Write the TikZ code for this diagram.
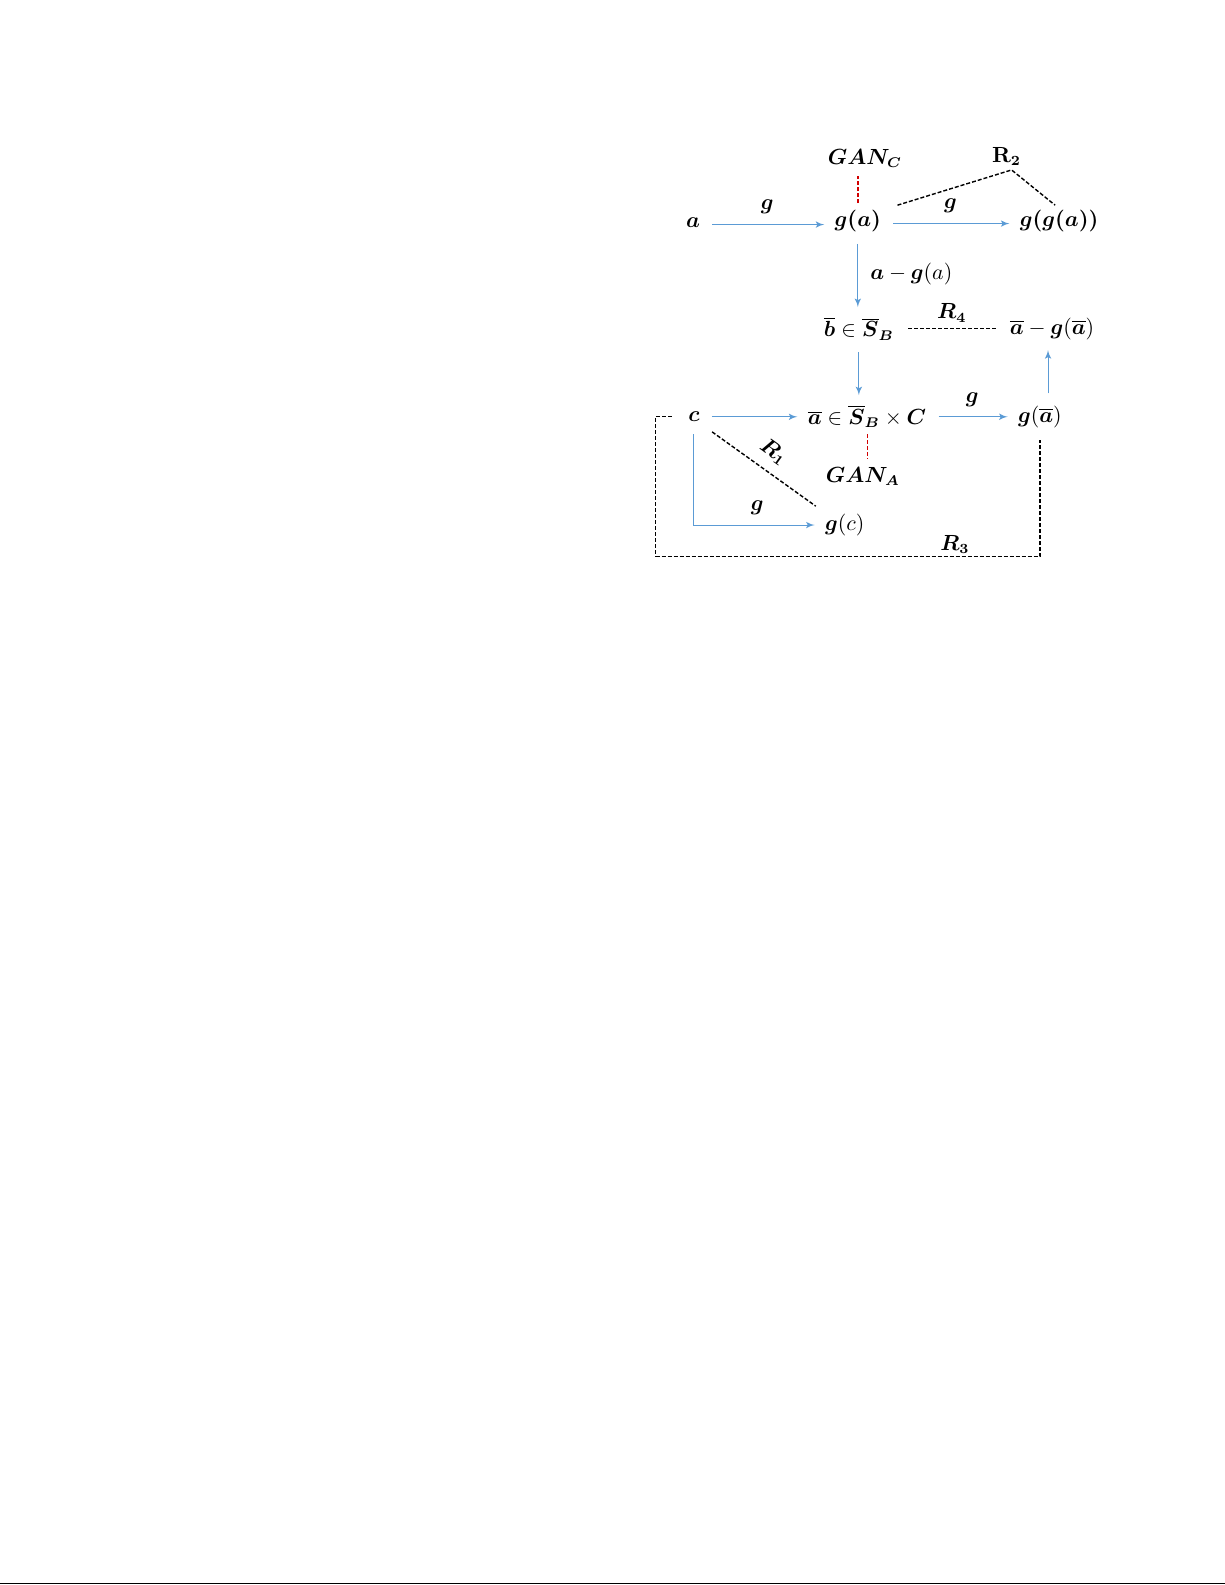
\documentclass[tikz,border=0pt]{standalone}
\usepackage{bm}
\usetikzlibrary{arrows, calc, positioning}
\definecolor{mapblue}{RGB}{91,155,213}
\definecolor{ganred}{RGB}{210,0,0}

\begin{document}
\begin{tikzpicture}[x=0.5058pt, y=-0.5058pt, >=latex', auto,
    every node/.style={font=\fontsize{10.5}{12}\selectfont, inner sep=2pt},
    map/.style={->, draw=mapblue, line width=0.5pt, shorten <=4pt, shorten >=3pt},
    rel/.style={draw=black, line width=0.7pt, dash pattern=on 2pt off 1pt},
    gan/.style={draw=ganred, dash pattern=on 2pt off 1pt, shorten <=1pt, shorten >=2pt}]

    \useasboundingbox (0pt,0pt) rectangle (612.5pt,-792.5pt);

    \node         (A)     at (685,220)  {$\bm a$};
    \node         (GA)    at (848,218)  {$\bm{g(a)}$};
    \node         (GGA)   at (1047,218) {$\bm{g(g(a))}$};
    \node         (GANC)  at (855,157)  {$\bm{GAN_C}$};
    \node         (RII)   at (995,155)  {$\mathbf{R}_{\mathbf{2}}$};
    \coordinate   (Rtop)  at (1000,168);
    \node         (B)     at (849,325)  {$\overline{\bm b}\in\overline{\bm S}_{\bm B}$};
    \node         (AG)    at (1040,325) {$\overline{\bm a}-\bm g(\overline{\bm a})$};
    \node         (C)     at (686,412)  {$\bm c$};
    \node         (ABAR)  at (857,412)  {$\overline{\bm a}\in\overline{\bm S}_{\bm B}\times\bm C$};
    \node         (GABAR) at (1028,412) {$\bm g(\overline{\bm a})$};
    \node         (GANA)  at (853,471)  {$\bm{GAN_A}$};
    \node         (GC)    at (835,519)  {$\bm g(c)$};
    \node         (RIII)  at (944,538)  {$\bm{R_3}$};
    \coordinate   (Rcorner) at (648,550);
    \coordinate   (Pleft)   at (0,1565.5);
    \coordinate   (Pright)  at (1215,1565.5);

    % blue maps
    \draw[map] ($(A.east)+(0,2)$) -- node[above=3pt] {$\bm g$} ($(A.east -| GA.west)+(0,2)$);
    \draw[map] ($(GA.east)+(0,3)$) -- node[above=3pt] {$\bm g$} ($(GA.east -| GGA.west)+(0,3)$);
    \draw[map] (GA.south) -- node[right=4pt] {$\bm a-\bm g(a)$} (GA.south |- B.north);
    \draw[map] (B.south) -- (B.south |- ABAR.north);
    \draw[map] (C.east) -- (C.east -| ABAR.west);
    \draw[map] (ABAR.east) -- node[above=3pt] {$\bm g$} (ABAR.east -| GABAR.west);
    \draw[map] ($(GABAR.north)+(8,0)$) -- ($(GABAR.north |- AG.south)+(8,0)$);
    \draw[map] (C.south) |- node[pos=0.75, above=3pt] {$\bm g$} (GC.west);

    % GAN links
    \draw[gan, line width=0.8pt] (GA.north) -- (GA.north |- GANC.south);
    \draw[gan, line width=0.4pt] (ABAR.south) -- (ABAR.south |- GANA.north);

    % relations
    \draw[rel] ($(GA.north east)+(12,0)$) -- (Rtop) -- ($(GGA.north)+(-4,0)$);
    \draw[rel, shorten <=5pt, shorten >=5pt] (B.east) -- node[above=1pt] {$\bm{R_4}$} (AG.west);
    \draw[rel, shorten <=5pt, shorten >=3pt] (C.south east) -- node[above=3pt, sloped] {$\bm{R_1}$} (GC.north west);
    \draw[rel, shorten <=6pt, shorten >=4pt] (C.west) -| (Rcorner) -| (GABAR.south);

    \draw[line width=0.8pt] (Pleft) -- (Pright);
\end{tikzpicture}
\end{document}
